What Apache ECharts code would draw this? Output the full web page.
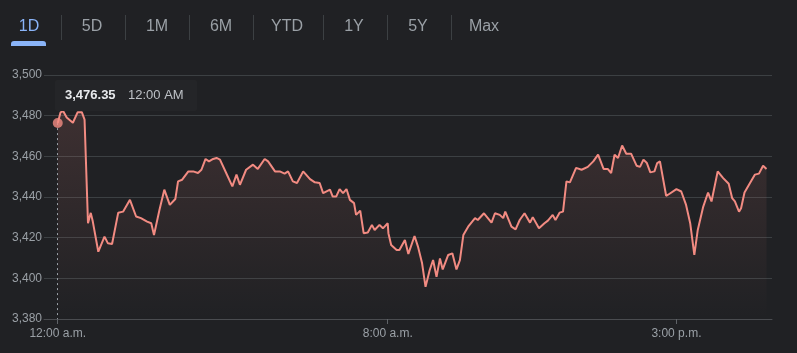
<!DOCTYPE html>
<html>
<head>
<meta charset="utf-8">
<style>
  html, body { margin: 0; padding: 0; background: #202124; }
  #chart { width: 797px; height: 353px; }
</style>
<script src="https://cdn.jsdelivr.net/npm/echarts@6/dist/echarts.min.js"></script>
</head>
<body>
<div id="chart"></div>
<script>
// ---- data ----
const tabs = ['1D', '5D', '1M', '6M', 'YTD', '1Y', '5Y', 'Max'];
const activeTab = '1D';
const tooltipTime = '12:00 AM';

// minutes since 12:00 a.m.
const times = [
  0, 4, 8, 13, 22, 29, 35, 39, 44, 48, 51, 59, 68, 73, 79, 88, 95, 105, 114, 121,
  130, 136, 140, 148, 155, 163, 171, 175, 181, 190, 197, 204, 209, 215, 220, 226, 231, 236, 245, 254,
  260, 265, 274, 284, 291, 301, 306, 316, 323, 330, 335, 342, 348, 357, 367, 374, 381, 386, 396, 400,
  405, 410, 415, 420, 425, 431, 434, 440, 445, 451, 457, 461, 468, 473, 480, 481, 485, 493, 497, 505,
  510, 519, 524, 530, 535, 541, 546, 551, 556, 560, 568, 574, 580, 585, 590, 597, 607, 611, 620, 631,
  636, 643, 648, 651, 660, 666, 672, 679, 687, 691, 700, 708, 713, 720, 724, 730, 735, 740, 745, 754,
  762, 771, 779, 786, 794, 800, 805, 810, 815, 821, 827, 834, 842, 847, 852, 857, 862, 868, 872, 876,
  885, 890, 900, 907, 914, 920, 926, 931, 939, 946, 951, 960, 968, 976, 981, 985, 991, 994, 999, 1007,
  1014, 1020, 1026, 1031
];
const prices = [
  3476.35, 3481.6, 3482.2, 3479.1, 3476.5, 3481.7, 3481.7, 3478.1, 3427.1, 3432.2, 3427.9, 3413.1, 3420.5, 3417.2, 3416.9, 3432.3, 3432.8, 3438.6, 3430.4, 3429.6,
  3427.9, 3427.1, 3421.3, 3433.7, 3443.6, 3436.1, 3439.0, 3447.7, 3448.5, 3452.6, 3452.6, 3451.8, 3453.4, 3458.7, 3457.5, 3458.7, 3459.2, 3458.4, 3451.8, 3445.2,
  3451.0, 3446.0, 3453.4, 3455.9, 3453.8, 3458.7, 3457.5, 3452.6, 3452.6, 3451.5, 3452.6, 3447.7, 3446.9, 3452.6, 3448.8, 3447.2, 3446.9, 3441.9, 3443.6, 3440.2,
  3440.2, 3443.9, 3441.9, 3443.9, 3438.6, 3437.0, 3431.2, 3433.3, 3422.2, 3422.5, 3426.3, 3423.8, 3426.3, 3424.6, 3427.1, 3422.2, 3416.4, 3413.9, 3413.9, 3418.9,
  3412.0, 3420.8, 3415.6, 3407.4, 3395.8, 3404.0, 3409.0, 3400.7, 3409.8, 3404.4, 3411.5, 3412.3, 3404.4, 3409.0, 3421.3, 3425.4, 3429.6, 3428.7, 3432.0, 3427.4,
  3432.0, 3431.2, 3429.6, 3432.8, 3425.4, 3424.1, 3428.7, 3432.0, 3427.4, 3430.1, 3424.6, 3427.1, 3428.4, 3431.2, 3428.7, 3432.3, 3432.8, 3447.7, 3447.2, 3454.3,
  3453.4, 3454.8, 3457.5, 3460.8, 3453.8, 3453.8, 3451.8, 3460.8, 3459.2, 3465.3, 3461.3, 3461.3, 3455.4, 3454.8, 3458.4, 3456.7, 3452.1, 3452.6, 3456.7, 3457.5,
  3440.6, 3441.6, 3443.9, 3442.7, 3436.1, 3427.1, 3411.5, 3423.8, 3435.3, 3442.2, 3437.8, 3452.6, 3449.3, 3446.5, 3439.5, 3437.8, 3432.8, 3434.5, 3442.2, 3446.9,
  3451.0, 3451.5, 3455.4, 3453.8
];
const xTickValues = [0, 480, 900];
const xTickLabels = ['12:00 a.m.', '8:00 a.m.', '3:00 p.m.'];
const yMin = 3380, yMax = 3500, yStep = 20;

// ---- chart ----
const chart = echarts.init(document.getElementById('chart'), null, { renderer: 'canvas' });
const FONT = '"Liberation Sans", Arial, sans-serif';
const LINE = '#f28b82';
const GREY = '#9aa0a6';

const tabCenters = [29, 92, 157, 221, 287, 354, 418, 484];
const sepX = [61, 125, 189, 253, 323, 387, 451];
const graphics = [];
tabs.forEach((t, i) => {
  graphics.push({
    type: 'text', left: 'auto', x: tabCenters[i], y: 27,
    style: { text: t, fill: t === activeTab ? '#8ab4f8' : GREY, font: '16px ' + FONT, align: 'center', verticalAlign: 'middle' }
  });
});
sepX.forEach(x => graphics.push({
  type: 'rect', shape: { x: x, y: 15, width: 1, height: 25 }, style: { fill: '#3c4043' }
}));
graphics.push({
  type: 'rect', shape: { x: 11, y: 41, width: 35, height: 5, r: [3, 3, 0, 0] }, style: { fill: '#8ab4f8' }
});
// tooltip box
graphics.push({
  type: 'rect', shape: { x: 55, y: 80, width: 142, height: 31, r: 2 }, style: { fill: '#242528' }, z: 50
});
graphics.push({
  type: 'text', x: 65, y: 95, z: 51,
  style: { text: prices[0].toLocaleString('en-US', { minimumFractionDigits: 2 }), fill: '#e8eaed', font: 'bold 13px ' + FONT, verticalAlign: 'middle' }
});
graphics.push({
  type: 'text', x: 128, y: 95, z: 51,
  style: { text: tooltipTime, fill: '#bdc1c6', font: '13px ' + FONT, verticalAlign: 'middle' }
});

const option = {
  backgroundColor: '#202124',
  animation: false,
  grid: { left: 44, right: 25, top: 75, bottom: 34, containLabel: false },
  xAxis: {
    type: 'value', min: -20, max: 1039,
    axisLine: { show: true, lineStyle: { color: '#4a4c50', width: 1 } },
    axisTick: { show: true, length: 5, lineStyle: { color: '#5f6368' }, customValues: xTickValues },
    axisLabel: {
      show: true, color: GREY, fontSize: 12, fontFamily: FONT, margin: 9,
      customValues: xTickValues,
      formatter: v => xTickLabels[xTickValues.indexOf(v)] || ''
    },
    splitLine: { show: false }
  },
  yAxis: {
    type: 'value', min: yMin, max: yMax, interval: yStep,
    axisLine: { show: false }, axisTick: { show: false },
    axisLabel: { color: GREY, fontSize: 12, fontFamily: FONT, margin: 2, formatter: v => v.toLocaleString('en-US') },
    splitLine: { lineStyle: { color: '#3c4043', width: 1 } }
  },
  graphic: graphics,
  series: [
    {
      type: 'line',
      data: times.map((t, i) => [t, prices[i]]),
      showSymbol: false,
      lineStyle: { color: LINE, width: 2 },
      itemStyle: { color: LINE },
      areaStyle: {
        origin: 'start',
        color: new echarts.graphic.LinearGradient(0, 0, 0, 1, [
          { offset: 0, color: 'rgba(242,139,130,0.20)' },
          { offset: 1, color: 'rgba(242,139,130,0.0)' }
        ])
      },
      markLine: {
        silent: true, symbol: 'none', label: { show: false },
        lineStyle: { color: '#9aa0a6', type: [2, 3], width: 1 },
        data: [[{ coord: [times[0], prices[0]] }, { coord: [times[0], yMin] }]]
      },
      z: 3
    },
    {
      type: 'scatter',
      data: [[times[0], prices[0]]],
      symbolSize: 10,
      itemStyle: { color: LINE },
      z: 5
    }
  ]
};
chart.setOption(option);
</script>
</body>
</html>
